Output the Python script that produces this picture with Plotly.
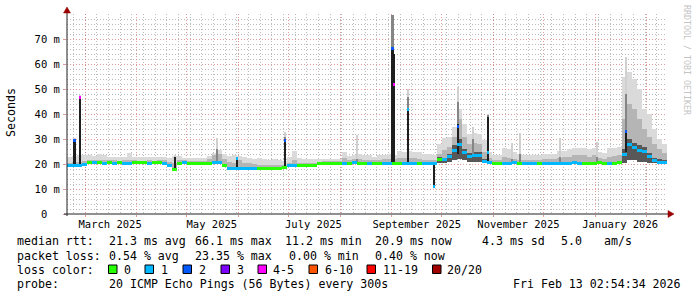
import pandas as pd
import plotly.graph_objects as go

# ---------------- data ----------------
T_START = pd.Timestamp("2025-02-18 02:54:34")
T_END = pd.Timestamp("2026-02-13 02:54:34")
BIN_DAYS = 3

# median rtt per 3-day bin (ms)
median_ms = [
    19.3, 19.3, 19.3, 20.0, 20.5, 20.6, 20.5, 20.4, 20.5, 20.4,
    20.5, 20.4, 20.4, 20.5, 20.5, 20.5, 20.4, 20.5, 20.5, 20.4,
    19.6, 18.0, 20.4, 20.6, 20.4, 20.4, 20.4, 20.4, 20.4, 20.6,
    20.6, 19.5, 18.4, 18.3, 18.4, 18.3, 18.4, 18.4, 18.3, 18.3,
    18.3, 18.3, 18.3, 18.6, 19.4, 19.3, 19.3, 19.3, 19.3, 19.3,
    20.3, 20.3, 20.3, 20.3, 20.3, 20.4, 20.4, 20.5, 20.3, 20.3,
    20.3, 20.3, 20.3, 20.3, 20.3, 20.3, 20.3, 20.3, 20.4, 20.3,
    20.3, 20.3, 20.3, 20.3, 22.0, 21.7, 22.9, 25.5, 28.0, 24.7,
    22.9, 23.5, 23.6, 21.0, 20.6, 20.3, 20.3, 20.3, 20.3, 20.5,
    20.3, 20.3, 20.3, 20.3, 20.3, 20.3, 20.3, 20.3, 20.4, 20.3,
    20.3, 20.5, 20.3, 20.3, 20.3, 20.3, 20.5, 20.3, 20.3, 20.3,
    20.6, 24.0, 28.0, 26.5, 25.5, 25.0, 22.9, 21.3, 20.8, 20.7,
]
# lost pings per bin (0 .. 20)
loss_code = [
    1, 1, 1, 1, 0, 1, 0, 1, 0, 1,
    0, 1, 1, 0, 0, 0, 1, 0, 0, 1,
    1, 0, 0, 1, 0, 0, 0, 0, 0, 1,
    1, 0, 1, 1, 1, 1, 1, 1, 0, 0,
    0, 0, 0, 0, 1, 1, 0, 0, 0, 0,
    0, 0, 0, 0, 0, 1, 0, 1, 0, 0,
    1, 0, 0, 1, 1, 0, 0, 1, 1, 1,
    0, 1, 1, 1, 0, 1, 1, 1, 1, 1,
    1, 1, 1, 1, 1, 0, 0, 1, 1, 1,
    0, 1, 1, 1, 0, 1, 1, 1, 1, 1,
    1, 1, 1, 0, 0, 0, 0, 0, 1, 0,
    0, 1, 1, 1, 1, 1, 1, 1, 1, 1,
]
# upper edge of the medium smoke (ms)
smoke_mid_ms = [
    20.5, 21.0, 20.8, 21.2, 21.5, 21.6, 21.6, 21.7, 21.5, 21.5,
    21.4, 21.5, 21.8, 21.5, 21.4, 21.3, 21.5, 21.4, 21.5, 21.5,
    21.0, 20.5, 21.5, 21.6, 21.4, 21.3, 21.4, 21.4, 22.0, 23.5,
    24.0, 22.0, 21.0, 20.5, 21.5, 20.3, 20.5, 20.2, 19.5, 19.5,
    19.5, 19.8, 19.5, 19.8, 20.6, 21.8, 20.5, 20.3, 20.3, 20.5,
    21.0, 21.2, 21.2, 21.3, 21.3, 22.5, 21.8, 22.0, 22.0, 21.8,
    21.6, 21.5, 21.8, 22.0, 22.0, 22.0, 22.5, 22.5, 22.5, 22.3,
    22.0, 21.8, 21.8, 21.5, 24.0, 25.5, 27.0, 31.0, 38.0, 31.0,
    28.0, 28.5, 28.0, 25.0, 22.5, 21.5, 21.5, 23.0, 22.5, 22.0,
    21.8, 21.5, 21.5, 21.8, 21.7, 22.0, 22.0, 22.0, 22.5, 22.8,
    23.0, 23.5, 23.5, 23.5, 23.0, 23.5, 22.5, 22.0, 23.0, 23.2,
    23.5, 38.0, 44.0, 42.0, 38.0, 34.0, 31.0, 28.0, 26.0, 24.5,
]
# upper edge of the light smoke (ms)
smoke_top_ms = [
    22.9, 23.2, 23.5, 23.5, 23.5, 23.3, 24.0, 23.8, 22.9, 23.0,
    22.8, 23.0, 24.3, 23.0, 22.9, 22.7, 23.0, 22.7, 22.8, 22.9,
    22.6, 23.2, 23.3, 22.4, 22.3, 22.3, 22.5, 22.4, 23.2, 24.4,
    25.5, 24.2, 23.4, 23.6, 23.3, 22.7, 22.6, 22.2, 22.3, 22.2,
    21.8, 22.0, 21.6, 21.3, 22.9, 25.3, 22.4, 22.2, 22.0, 22.0,
    22.0, 22.0, 22.1, 22.2, 22.0, 24.8, 23.2, 23.6, 24.0, 23.5,
    23.5, 22.8, 23.5, 23.8, 24.1, 23.8, 25.3, 25.0, 25.3, 24.8,
    24.8, 24.1, 24.0, 23.5, 28.0, 30.5, 31.0, 35.0, 42.0, 36.0,
    32.0, 32.5, 32.0, 29.5, 25.0, 23.6, 23.6, 26.5, 26.0, 25.0,
    24.1, 23.5, 23.5, 23.8, 23.5, 24.1, 24.0, 24.0, 25.3, 25.3,
    26.0, 26.6, 26.6, 26.6, 26.0, 26.6, 25.0, 24.3, 26.6, 26.5,
    27.0, 55.0, 57.0, 54.0, 50.0, 42.0, 40.0, 34.0, 30.0, 28.0,
]
# busy periods: lowest ping and dense dark core per bin
busy_idx = [74, 75, 76, 77, 78, 79, 80, 81, 82, 83, 84,
            110, 111, 112, 113, 114, 115, 116, 117, 118, 119]
busy_low_ms = [20.5, 20.5, 20.8, 21.5, 22.0, 21.5, 21.0, 21.0, 21.0, 20.3, 20.3,
               20.3, 20.5, 21.5, 21.5, 21.0, 21.0, 20.5, 20.3, 20.3, 20.3]
busy_dark_ms = [22.8, 22.5, 24.0, 27.5, 30.0, 26.0, 24.5, 25.0, 25.0, 22.0, 21.2,
                21.2, 26.0, 30.0, 28.5, 27.5, 27.0, 24.5, 22.5, 22.0, 21.8]

# short events
spike_time = ["2025-02-22 14:00", "2025-02-26 00:30", "2025-04-23 22:00",
              "2025-05-19 03:00", "2025-05-30 20:00", "2025-06-28 15:00",
              "2025-08-11 03:00", "2025-09-01 10:00", "2025-09-02 15:00",
              "2025-09-10 15:00", "2025-09-26 03:00", "2025-10-10 17:00",
              "2025-10-19 22:00", "2025-10-28 21:00", "2025-11-12 03:00",
              "2025-11-16 22:00", "2025-12-10 22:00", "2026-01-01 20:00",
              "2026-01-19 20:00"]
spike_hours = [43, 29, 29, 22, 29, 29, 14, 29, 22, 36, 29, 29, 22, 29, 14, 14, 14, 14, 22]
spike_base_ms = [19.3, 20.0, 17.6, 20.6, 18.3, 19.3, 20.3, 20.3, 20.3, 20.3,
                 10.4, 24.0, 23.6, 20.3, 20.3, 20.3, 20.3, 20.3, 25.0]
spike_dark_ms = [29.8, 47.0, 23.0, 20.6, 22.5, 29.8, 20.3, 66.0, 64.0, 42.0,
                 20.3, 36.0, 23.6, 39.0, 20.3, 20.3, 20.3, 20.3, 33.0]
spike_mid_ms = [29.8, 47.0, 23.0, 26.0, 22.5, 31.0, 22.0, 79.6, 64.0, 47.0,
                20.3, 45.0, 30.0, 39.5, 22.0, 24.0, 23.0, 23.0, 48.0]
spike_top_ms = [30.3, 47.5, 23.5, 30.3, 23.0, 33.0, 31.6, 79.6, 64.0, 50.0,
                20.3, 51.0, 34.9, 40.0, 28.3, 32.3, 30.3, 28.9, 63.0]
spike_median_ms = [29.3, 46.8, None, None, 22.2, 29.6, None, 66.1, 51.9, 41.9,
                   11.2, 34.9, None, 24.8, None, None, None, None, 32.9]
spike_loss = [2, 4, None, None, 1, 2, None, 2, 4, 1, 1, 2, None, 1, None, None, None, None, 2]

loss_labels = ["0", "1", "2", "3", "4-5", "6-10", "11-19", "20/20"]
loss_colors = ["#26ff00", "#00b8ff", "#0059ff", "#7e00ff", "#ff00ff", "#ff5500", "#ff0000", "#a10000"]

y_tick_vals = [0, 10, 20, 30, 40, 50, 60, 70]
y_tick_text = ["0\u00a0\u00a0", "10 m", "20 m", "30 m", "40 m", "50 m", "60 m", "70 m"]
x_label_dates = ["2025-03-16", "2025-05-16", "2025-07-16", "2025-09-16", "2025-11-16", "2026-01-16"]
x_label_text = ["March 2025", "May 2025", "July 2025", "September 2025", "November 2025", "January 2026"]
month_starts = pd.date_range("2025-03-01", "2026-02-01", freq="MS")

stats_rtt = ["median rtt:", "21.3 ms avg", "66.1 ms max", "11.2 ms min", "20.9 ms now", "4.3 ms sd", "5.0", "am/s"]
stats_loss = ["packet loss:", "0.54 % avg", "23.35 % max", "0.00 % min", "0.40 % now"]
probe_text = ["probe:", "20 ICMP Echo Pings (56 Bytes) every 300s", "Fri Feb 13 02:54:34 2026"]

# ---------------- figure ----------------
W, H = 697, 297
L, R, T, B = 67, 667, 14, 214


def px(x):
    return (x - L) / (R - L)


def py(y):
    return (B - y) / (B - T)


def loss_color(n):
    if n is None:
        return None
    if n <= 3:
        return loss_colors[n]
    if n <= 5:
        return loss_colors[4]
    if n <= 10:
        return loss_colors[5]
    if n <= 19:
        return loss_colors[6]
    return loss_colors[7]


n_bins = len(median_ms)
bin_times = [T_START + pd.Timedelta(days=BIN_DAYS * (i + 0.5)) for i in range(n_bins)]
bin_w = BIN_DAYS * 86400000
smoke_base = list(median_ms)
dark_top = list(median_ms)
for k, i in enumerate(busy_idx):
    smoke_base[i] = busy_low_ms[k]
    dark_top[i] = busy_dark_ms[k]

LIGHT, MID, DARK = "#dadada", "#b5b5b5", "#585858"
S_LIGHT, S_MID, S_DARK = "#d0d0d0", "#858585", "#1e1e1e"
MED_H = 1.2

fig = go.Figure()


def add_bars(x, base, top, color, width):
    fig.add_trace(go.Bar(
        x=x, base=base, y=[t - b for t, b in zip(top, base)],
        width=width, marker=dict(color=color, line=dict(width=0)),
        showlegend=False, hoverinfo="skip"))


add_bars(bin_times, smoke_base, smoke_top_ms, LIGHT, bin_w)
add_bars(bin_times, smoke_base, smoke_mid_ms, MID, bin_w)
add_bars(bin_times, smoke_base, dark_top, DARK, bin_w)

sp_x = [pd.Timestamp(t) for t in spike_time]
sp_w = [h * 3600000 for h in spike_hours]
add_bars(sp_x, spike_base_ms, spike_top_ms, S_LIGHT, sp_w)
add_bars(sp_x, spike_base_ms, spike_mid_ms, S_MID, sp_w)
add_bars(sp_x, spike_base_ms, spike_dark_ms, S_DARK, sp_w)

# median line (colored by loss)
fig.add_trace(go.Bar(
    x=bin_times, base=[m - MED_H / 2 for m in median_ms], y=[MED_H] * n_bins,
    width=bin_w, marker=dict(color=[loss_color(c) for c in loss_code], line=dict(width=0)),
    showlegend=False, hoverinfo="skip"))
sm = [(x, w, m, c) for x, w, m, c in zip(sp_x, sp_w, spike_median_ms, spike_loss) if m is not None]
fig.add_trace(go.Bar(
    x=[s[0] for s in sm], base=[s[2] - MED_H / 2 for s in sm], y=[MED_H] * len(sm),
    width=[s[1] for s in sm], marker=dict(color=[loss_color(s[3]) for s in sm], line=dict(width=0)),
    showlegend=False, hoverinfo="skip"))

# dummy trace for the label axis
fig.add_trace(go.Scatter(x=[T_START, T_END], y=[0, 0], xaxis="x2", mode="markers",
                         marker=dict(opacity=0), showlegend=False, hoverinfo="skip"))

FONT = "DejaVu Sans Mono"
MAJ = "rgba(215,120,120,0.75)"
MIN = "rgba(170,170,170,0.8)"
DASH = "1px,2px"

fig.update_layout(
    width=W, height=H, autosize=False,
    margin=dict(l=L, r=W - R, t=T, b=H - B, pad=0),
    paper_bgcolor="white", plot_bgcolor="white",
    barmode="overlay", bargap=0, showlegend=False,
    font=dict(family=FONT, size=10.5, color="#000000"),
    xaxis=dict(
        type="date", range=[T_START, T_END], tickmode="array", tickvals=list(month_starts),
        showticklabels=False, ticks="outside", ticklen=2, tickcolor=MAJ,
        showgrid=True, gridcolor=MAJ, griddash=DASH, gridwidth=1,
        minor=dict(tick0="2025-02-22", dtick=7 * 86400000, showgrid=True,
                   gridcolor=MIN, griddash=DASH, gridwidth=1, ticks=""),
        showline=False, zeroline=False, fixedrange=True,
    ),
    xaxis2=dict(
        type="date", range=[T_START, T_END], overlaying="x", anchor="y", side="bottom",
        tickmode="array", tickvals=x_label_dates, ticktext=x_label_text,
        showgrid=False, ticks="", ticklabelstandoff=2,
        tickfont=dict(family=FONT, size=10.5, color="#000000"),
        showline=False, zeroline=False,
    ),
    yaxis=dict(
        range=[0, 80], tickmode="array", tickvals=y_tick_vals, ticktext=y_tick_text,
        ticks="outside", ticklen=3, tickcolor=MAJ,
        showgrid=True, gridcolor=MAJ, griddash=DASH, gridwidth=1,
        minor=dict(tickvals=[v for v in range(2, 81, 2) if v % 10 != 0] + [80],
                   showgrid=True, gridcolor=MIN, griddash=DASH, gridwidth=1, ticks=""),
        tickfont=dict(family=FONT, size=10.5, color="#000000"),
        ticklabelstandoff=1,
        showline=False, zeroline=False, fixedrange=True,
    ),
)

shapes = []
AX = "#202020"
ARROW = "#9a0000"
# axes
shapes.append(dict(type="line", xref="paper", yref="paper", x0=px(67), x1=px(67),
                   y0=py(216), y1=py(11), line=dict(color=AX, width=1)))
shapes.append(dict(type="line", xref="paper", yref="paper", x0=px(64), x1=px(669),
                   y0=py(214), y1=py(214), line=dict(color=AX, width=1)))
# arrows
shapes.append(dict(type="path", xref="paper", yref="paper",
                   path=f"M {px(67)} {py(7)} L {px(63.5)} {py(13)} L {px(70.5)} {py(13)} Z",
                   fillcolor=ARROW, line=dict(color=ARROW, width=0.5)))
shapes.append(dict(type="path", xref="paper", yref="paper",
                   path=f"M {px(674)} {py(214)} L {px(668)} {py(210.5)} L {px(668)} {py(217.5)} Z",
                   fillcolor=ARROW, line=dict(color=ARROW, width=0.5)))

ann = []


def text(x, y, s, anchor="left", size=11.6, color="#000000", angle=0):
    ann.append(dict(x=px(x), y=py(y), xref="paper", yref="paper", text=s, showarrow=False,
                    xanchor=anchor, yanchor="middle", textangle=angle, borderpad=0,
                    font=dict(family=FONT, size=size, color=color)))


text(11, 113, "Seconds", anchor="center", angle=-90)
text(687, 60, "RRDTOOL / TOBI OETIKER", anchor="center", size=8.3, color="#c4c4c4", angle=90)

row1_x = [16, 107.5, 194, 284, 374, 481, 560, 602.5]
for x, s in zip(row1_x, stats_rtt):
    text(x, 241, s)
row2_x = [16, 107.5, 194, 287.5, 374]
for x, s in zip(row2_x, stats_loss):
    text(x, 256, s)
text(16, 269.5, "loss color:")
box_x = [108.5, 145, 183, 221, 258, 309, 367, 432.5]
lab_x = [122.5, 159.5, 198, 236.5, 272, 323.5, 382, 446.5]
for bx, lx, lab, col in zip(box_x, lab_x, loss_labels, loss_colors):
    shapes.append(dict(type="rect", xref="paper", yref="paper", x0=px(bx), x1=px(bx + 8.5),
                       y0=py(273.5), y1=py(265), fillcolor=col, line=dict(color="#000000", width=1)))
    text(lx, 269.5, lab)
text(16, 284, probe_text[0])
text(107.5, 284, probe_text[1])
text(682, 284, probe_text[2], anchor="right")

fig.update_layout(shapes=shapes, annotations=ann)
fig.write_html("out.html")
